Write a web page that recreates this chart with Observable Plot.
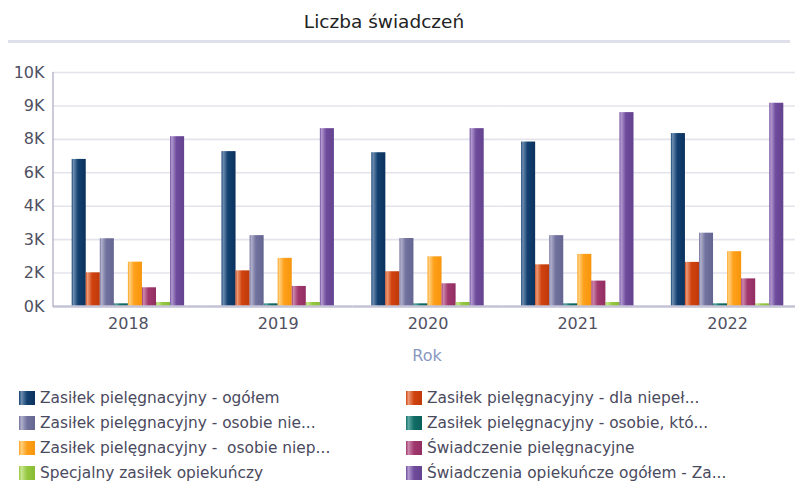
<!DOCTYPE html>
<html>
<head>
<meta charset="utf-8">
<script src="https://cdn.jsdelivr.net/npm/d3@7"></script>
<script src="https://cdn.jsdelivr.net/npm/@observablehq/plot@0.6"></script>
<style>
  html, body { margin: 0; padding: 0; background: #fff; }
  body { width: 795px; height: 483px; position: relative; overflow: hidden; font-family: "DejaVu Sans", sans-serif; }
  #title { position: absolute; left: 0; top: 9px; width: 768px; text-align: center; font-size: 18.5px; color: #222; line-height: 26px; }
  #rule { position: absolute; left: 8px; right: 5px; top: 40px; height: 2.5px; background: #e0e0ea; }
  #chart { position: absolute; left: 0; top: 44px; width: 795px; overflow: hidden; }
  #xlabel { position: absolute; left: 384px; width: 86px; top: 345px; text-align: center; font-size: 16px; color: #8a98c0; line-height: 22px; }
  #legend { position: absolute; left: 0; top: 385.5px; width: 795px; }
  .row { height: 25px; position: relative; }
  .item { position: absolute; top: 0; height: 25px; display: flex; align-items: center; font-size: 15.4px; color: #4a4a5e; white-space: pre; }
  .sw { width: 16px; height: 14px; margin-right: 5px; }
</style>
</head>
<body>
<div id="title">Liczba świadczeń</div>
<div id="rule"></div>
<div id="chart"></div>
<div id="xlabel">Rok</div>
<div id="legend"></div>
<script>
// ---- data ----
const years = ["2018", "2019", "2020", "2021", "2022"];
const seriesNames = [
  "Zasiłek pielęgnacyjny - ogółem",
  "Zasiłek pielęgnacyjny - dla niepeł...",
  "Zasiłek pielęgnacyjny - osobie nie...",
  "Zasiłek pielęgnacyjny - osobie, któ...",
  "Zasiłek pielęgnacyjny -  osobie niep...",
  "Świadczenie pielęgnacyjne",
  "Specjalny zasiłek opiekuńczy",
  "Świadczenia opiekuńcze ogółem - Za..."
];
const zpOgolem       = [6600, 6950, 6900, 7380, 7760];
const zpDlaNiepel    = [1510, 1600, 1560, 1870, 1980];
const zpOsobieNie    = [3040, 3180, 3050, 3180, 3290];
const zpOsobieKto    = [120, 120, 120, 120, 120];
const zpOsobieNiep   = [1990, 2160, 2230, 2340, 2460];
const swPielegnacyjne = [840, 900, 1020, 1140, 1240];
const specjalnyZasilek = [180, 180, 180, 180, 120];
const swOpiekuncze   = [7620, 7980, 7980, 8700, 9120];
const yTicks = [0, 1500, 3000, 4500, 6000, 7500, 9000, 10500];
const yTickLabels = ["0K", "2K", "3K", "4K", "6K", "8K", "9K", "10K"];

const seriesValues = [zpOgolem, zpDlaNiepel, zpOsobieNie, zpOsobieKto, zpOsobieNiep, swPielegnacyjne, specjalnyZasilek, swOpiekuncze];
// colours: [light, base, dark]
const palette = [
  ["#6d8db0", "#134070", "#0b325e"],
  ["#ec9a78", "#d0430f", "#c0390a"],
  ["#b0b0cc", "#72729e", "#656592"],
  ["#5ea8a2", "#116d66", "#0b605a"],
  ["#ffd080", "#ffa01a", "#f7960c"],
  ["#cc88ac", "#a0386e", "#922e62"],
  ["#c8e690", "#95c840", "#88bc34"],
  ["#b29ad0", "#6f4c9c", "#63428f"]
];

const data = years.flatMap((yr, i) => seriesNames.map((s, j) => ({year: yr, series: s, value: seriesValues[j][i]})));
const gradIds = palette.map((_, i) => "barg" + i);

const plot = Plot.plot({
  width: 795,
  height: 330,
  marginLeft: 53,
  marginRight: -7,
  marginTop: 28,
  marginBottom: 68,
  style: {fontFamily: "DejaVu Sans, sans-serif", fontSize: "16px", color: "#505062", background: "transparent", overflow: "hidden"},
  fx: {domain: years, padding: 0, round: false, label: null, tickSize: 0, tickPadding: 11},
  x: {domain: seriesNames, axis: null, paddingInner: 0, paddingOuter: 1.33, align: 0.5, round: false},
  y: {domain: [0, 10500], ticks: yTicks, tickFormat: d => yTickLabels[yTicks.indexOf(d)], label: null, tickSize: 0, tickPadding: 9, grid: true},
  color: {domain: seriesNames, range: gradIds.map(id => `url(#${id})`)},
  marks: [
    Plot.barY(data, {fx: "year", x: "series", y: "value", fill: "series"}),
    Plot.ruleY([0], {stroke: "#c4c4d6", strokeWidth: 2.5})
  ]
});

const svg = d3.select(plot.tagName.toLowerCase() === "svg" ? plot : plot.querySelector("svg"));
svg.selectAll('[aria-label="y-grid"] line, [aria-label="y-axis grid"] line, g[aria-label$="grid"] line')
  .attr("stroke", "#e3e3ed").attr("stroke-opacity", 1).attr("stroke-width", 1.6);
const defs = svg.insert("defs", ":first-child");
palette.forEach((c, i) => {
  const g = defs.append("linearGradient").attr("id", gradIds[i]).attr("x1", "0").attr("x2", "1").attr("y1", "0").attr("y2", "0");
  g.append("stop").attr("offset", "0%").attr("stop-color", c[1]);
  g.append("stop").attr("offset", "12%").attr("stop-color", c[0]);
  g.append("stop").attr("offset", "45%").attr("stop-color", c[1]);
  g.append("stop").attr("offset", "100%").attr("stop-color", c[2]);
});
// left axis line
const ys = plot.scale("y");
svg.append("line").attr("x1", 53).attr("x2", 53).attr("y1", ys.range[1]).attr("y2", ys.range[0] + 1)
  .attr("stroke", "#b8b8cc").attr("stroke-width", 1.5);
document.getElementById("chart").appendChild(plot);

// legend (two columns, row-major)
const legend = document.getElementById("legend");
for (let r = 0; r < 4; r++) {
  const row = document.createElement("div");
  row.className = "row";
  [0, 1].forEach(c => {
    const k = r * 2 + c;
    const item = document.createElement("div");
    item.className = "item";
    item.style.left = c === 0 ? "19px" : "406px";
    const sw = document.createElement("span");
    sw.className = "sw";
    const p = palette[k];
    sw.style.background = `linear-gradient(to right, ${p[1]} 0%, ${p[0]} 15%, ${p[1]} 50%, ${p[2]} 100%)`;
    const t = document.createElement("span");
    t.textContent = seriesNames[k];
    item.appendChild(sw);
    item.appendChild(t);
    row.appendChild(item);
  });
  legend.appendChild(row);
}
</script>
</body>
</html>
